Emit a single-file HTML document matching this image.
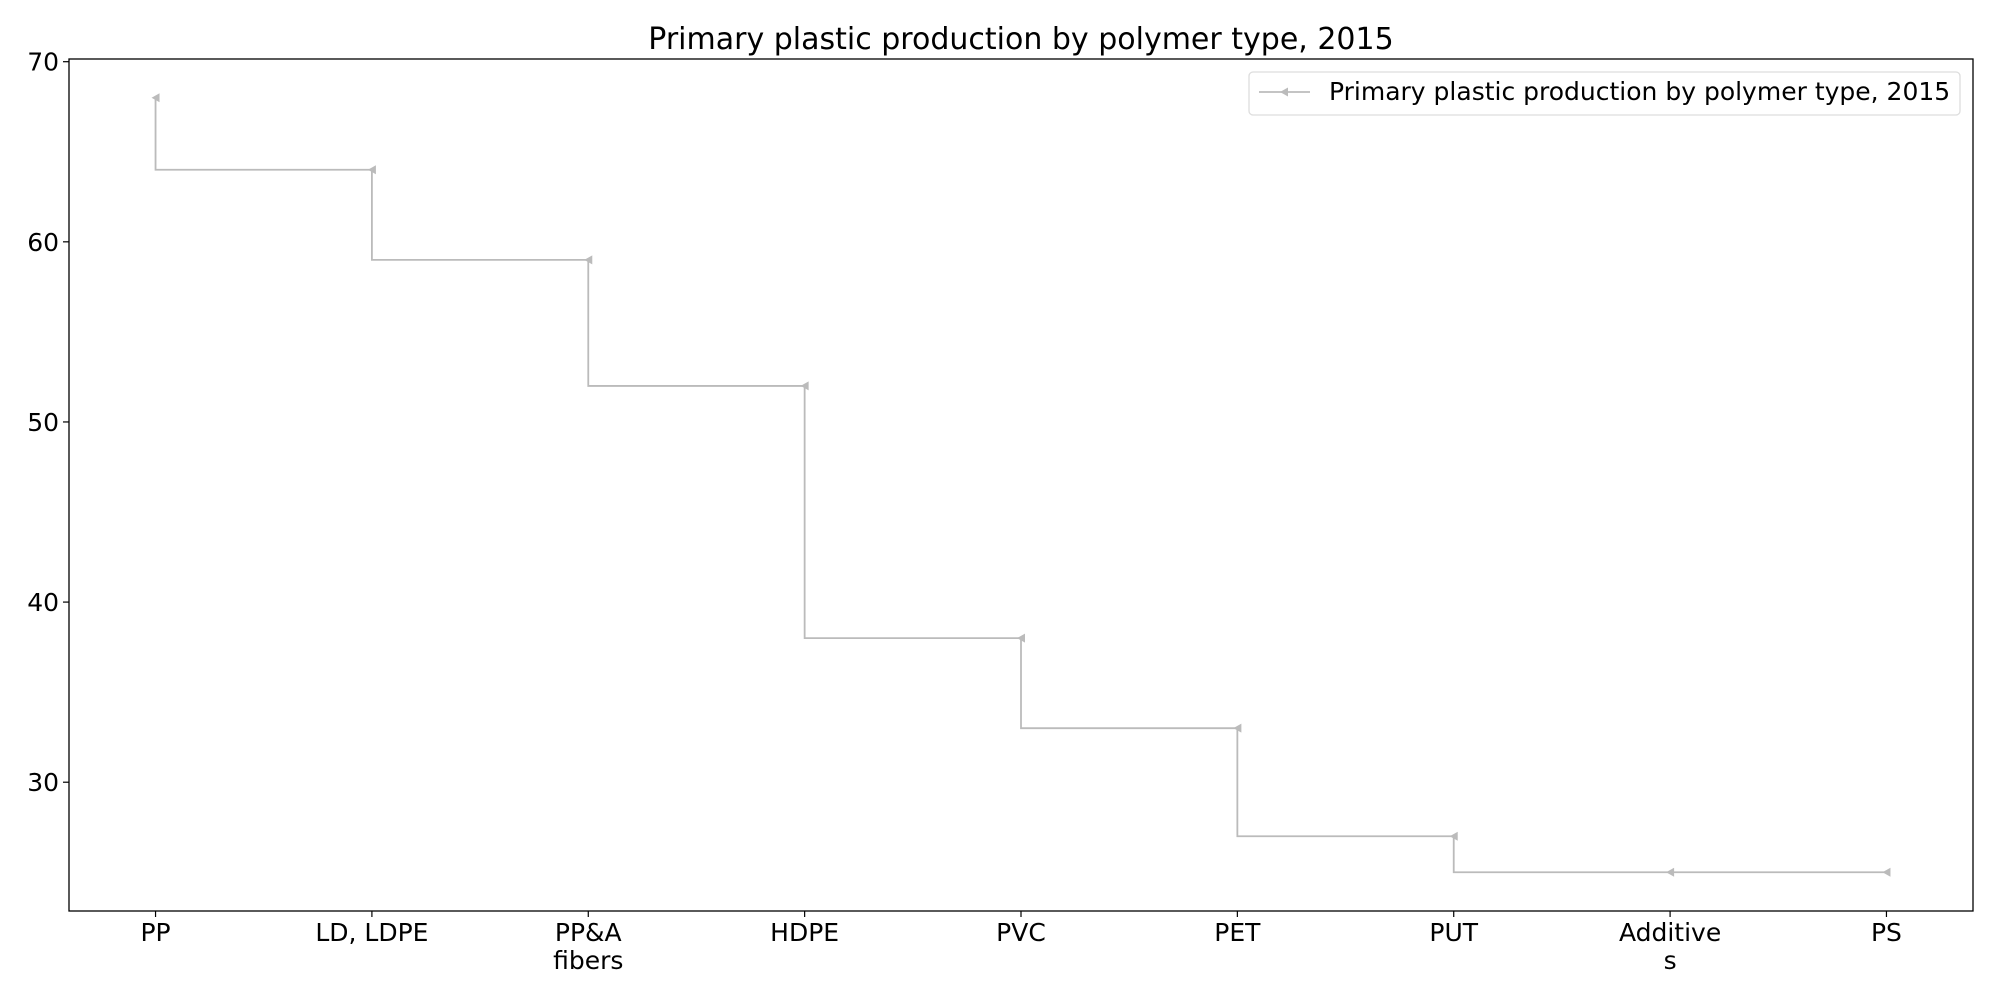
<!DOCTYPE html>
<html><head><meta charset="utf-8"><style>
body{margin:0;background:#fff}
svg{display:block;font-family:"DejaVu Sans","Liberation Sans",sans-serif}
</style></head><body>
<svg id="c" width="2000" height="1000">
<rect width="2000" height="1000" fill="#fff"/>
<text x="1021" y="49" font-size="30" text-anchor="middle" fill="#000">Primary plastic production by polymer type, 2015</text>
<g id="plot"></g>
<rect x="69" y="59" width="1904" height="852" fill="none" stroke="#000" stroke-width="1.3"/>
<g>
<rect x="1249" y="72" width="711" height="43" rx="4" fill="#fff" stroke="#ddd" stroke-width="1.3"/>
<line x1="1259" y1="92" x2="1310" y2="92" stroke="#bbbbbb" stroke-width="1.8"/>
<polygon points="1280,92 1288,87.5 1288,96.5" fill="#bbbbbb"/>
<text x="1329" y="100" font-size="25" fill="#000">Primary plastic production by polymer type, 2015</text>
</g>
</svg>
<script>
const categories=[["PP"],["LD, LDPE"],["PP&A","fibers"],["HDPE"],["PVC"],["PET"],["PUT"],["Additive","s"],["PS"]];
const values=[68,64,59,52,38,33,27,25,25];
const yTicks=[30,40,50,60,70];
const NS="http://www.w3.org/2000/svg";
const L=69,R=1973,T=59,B=911;
const n=values.length;
const xmin=-0.4,xmax=n-1+0.4;
const vmin=Math.min(...values),vmax=Math.max(...values),m=(vmax-vmin)*0.05;
const ymin=vmin-m,ymax=vmax+m;
const xs=i=>L+(i-xmin)/(xmax-xmin)*(R-L);
const ys=v=>B-(v-ymin)/(ymax-ymin)*(B-T);
const g=document.getElementById('plot');
function mk(t,a){const e=document.createElementNS(NS,t);for(const k in a)e.setAttribute(k,a[k]);g.appendChild(e);return e;}
yTicks.forEach(v=>{
 const y=ys(v);
 const tk=mk('line',{x1:L-6,x2:L,y1:y,y2:y,stroke:'#000','stroke-width':1.2});
 
 
 const t=mk('text',{x:L-10,y:y+9,'font-size':25,'text-anchor':'end'});
 t.textContent=v;
 
 
});
categories.forEach((c,i)=>{
 const x=xs(i);
 const tk=mk('line',{x1:x,x2:x,y1:B,y2:B+6,stroke:'#000','stroke-width':1.2});
 
 
 c.forEach((s,j)=>{
  const t=mk('text',{x:x,y:941+j*28,'font-size':25,'text-anchor':'middle'});
  t.textContent=s;
  
  
 });
});
let d='M'+xs(0)+','+ys(values[0]);
for(let i=1;i<n;i++){d+=' L'+xs(i-1)+','+ys(values[i])+' L'+xs(i)+','+ys(values[i]);}
const p=mk('path',{d:d,fill:'none',stroke:'#bbbbbb','stroke-width':1.8});


values.forEach((v,i)=>{
 const x=xs(i),y=ys(v);
 const mkr=mk('polygon',{points:(x-4)+','+y+' '+(x+4)+','+(y-4.5)+' '+(x+4)+','+(y+4.5),fill:'#bbbbbb'});
 
 
});
</script>
</body></html>
